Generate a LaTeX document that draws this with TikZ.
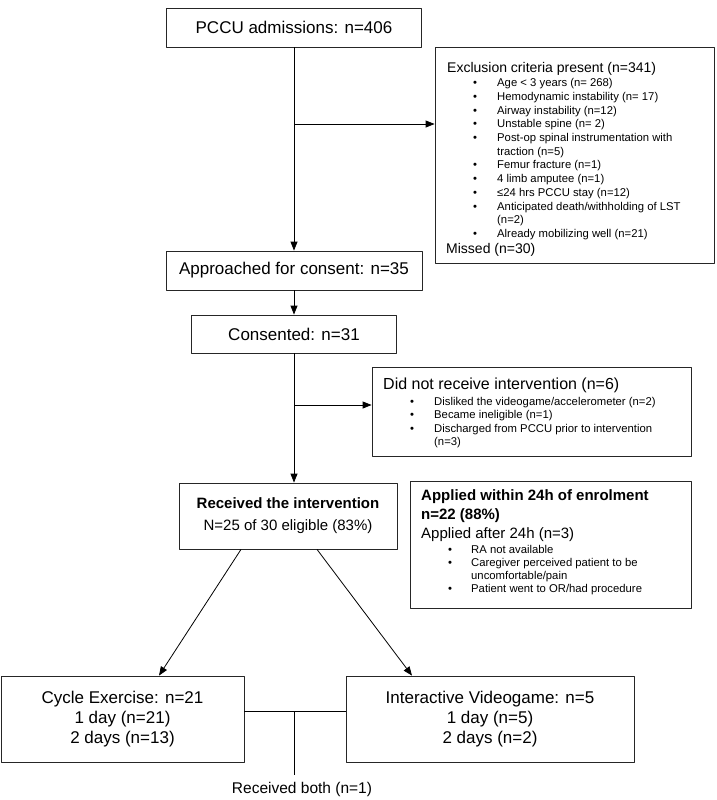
\documentclass[tikz,border=0pt]{standalone}
\usepackage{fontspec}
\setmainfont{Liberation Sans}
\usetikzlibrary{arrows.meta,calc}

\tikzset{
  box/.style={draw=black!85, line width=0.8pt, inner sep=0pt, align=center},
  arr/.style={-{Triangle[length=9pt,width=7pt]}, line width=0.8pt},
  link/.style={line width=0.7pt},
  big/.style={font=\fontsize{17}{20}\selectfont},
  mid/.style={font=\fontsize{15}{22}\selectfont},
  txtline/.style={anchor=west, inner sep=0pt, text depth=0pt},
  head/.style={font=\fontsize{14}{16}\selectfont, text height=10pt},
  headbig/.style={font=\fontsize{16}{18}\selectfont, text height=11pt},
  headbf/.style={font=\fontsize{15}{17}\selectfont\bfseries, text height=11pt},
  headrm/.style={font=\fontsize{15}{17}\selectfont, text height=11pt},
  itemtxt/.style={font=\fontsize{11.3}{13}\selectfont, text height=8pt},
}

\begin{document}
\begin{tikzpicture}[x=1pt, y=-1pt, line join=round]
\useasboundingbox (0,0) rectangle (717,800);

% main column
\node[box, big, minimum width=255pt, minimum height=39pt] (pccu) at (294,27.5) {PCCU admissions: n=406};
\node[box, big, minimum width=256pt, minimum height=39pt] (appr) at (294,270.5) {Approached for consent: n=35};
\node[box, big, minimum width=205pt, minimum height=38pt] (cons) at (294,334) {Consented: n=31};
\node[box, mid, minimum width=218pt, minimum height=66pt] (rec) at (288,516) {\textbf{Received the intervention}\\N=25 of 30 eligible (83\%)};

% side boxes
\node[box, minimum width=279pt, minimum height=216pt] (exc) at (574.5,155) {};
\node[box, minimum width=319pt, minimum height=89pt] (dnr) at (531.5,411.5) {};
\node[box, minimum width=281pt, minimum height=127pt] (appl) at (550.5,544.5) {};

% exclusion criteria
\node[txtline, head] (exctitle) at (447,67) {Exclusion criteria present (n=341)};
\foreach \y/\b/\txt [count=\i] in {82/•/{Age < 3 years (n= 268)},
    96/•/{Hemodynamic instability (n= 17)},
    110/•/{Airway instability (n=12)},
    123/•/{Unstable spine (n= 2)},
    137/•/{Post-op spinal instrumentation with},
    151//{traction (n=5)},
    164/•/{Femur fracture (n=1)},
    178/•/{4 limb amputee (n=1)},
    192/•/{≤24 hrs PCCU stay (n=12)},
    206/•/{Anticipated death/withholding of LST},
    219//{(n=2)},
    233/•/{Already mobilizing well (n=21)}}
  \node[txtline, itemtxt] (exc\i) at (473,\y) {\makebox[24pt][l]{\b}\txt};
\node[txtline, head] (missed) at (446,248) {Missed (n=30)};

% did not receive
\node[txtline, headbig] (dnrtitle) at (383,384) {Did not receive intervention (n=6)};
\foreach \y/\b/\txt [count=\i] in {401/•/{Disliked the videogame/accelerometer (n=2)},
    414/•/{Became ineligible (n=1)},
    428/•/{Discharged from PCCU prior to intervention},
    441//{(n=3)}}
  \node[txtline, itemtxt] (dnr\i) at (410,\y) {\makebox[24pt][l]{\b}\txt};

% applied
\node[txtline, headbf] (appltitle) at (421,495) {Applied within 24h of enrolment};
\node[txtline, headbf] (applcount) at (421,514) {n=22 (88\%)};
\node[txtline, headrm] (applafter) at (421,533) {Applied after 24h (n=3)};
\foreach \y/\b/\txt [count=\i] in {549/•/{RA not available},
    562/•/{Caregiver perceived patient to be},
    575//{uncomfortable/pain},
    588/•/{Patient went to OR/had procedure}}
  \node[txtline, itemtxt] (appl\i) at (448,\y) {\makebox[23pt][l]{\b}\txt};

% groups
\node[box, big, minimum width=243pt, minimum height=86pt] (cyc) at (122.5,719) {Cycle Exercise: n=21\\1 day (n=21)\\2 days (n=13)};
\node[box, big, minimum width=288pt, minimum height=86pt] (vid) at (490,719) {Interactive Videogame: n=5\\1 day (n=5)\\2 days (n=2)};
\node[font=\fontsize{15.5}{18}\selectfont, inner sep=0pt] (both) at (302,789) {Received both (n=1)};

% connectors
\draw[arr] (pccu) -- (appr);
\draw[arr] (appr) -- (cons);
\draw[arr] (cons.south) -- (cons.south |- rec.north);
\coordinate (excjoin) at (294,124);
\draw[arr] (excjoin) -- (excjoin -| exc.west);
\coordinate (dnrjoin) at (294,405);
\draw[arr] (dnrjoin) -- (dnrjoin -| dnr.west);
\draw[arr] ($(rec.south)+(-47,0)$) -- ($(cyc.north)+(36.5,0)$);
\draw[arr] ($(rec.south)+(29,0)$) -- ($(vid.north)+(-78,0)$);
\coordinate (bothjoin) at (294,711);
\coordinate (bothend) at (294,775);
\draw[link] (bothjoin -| cyc.east) -- (bothjoin -| vid.west);
\draw[link] (bothjoin) -- (bothend);
\end{tikzpicture}
\end{document}
